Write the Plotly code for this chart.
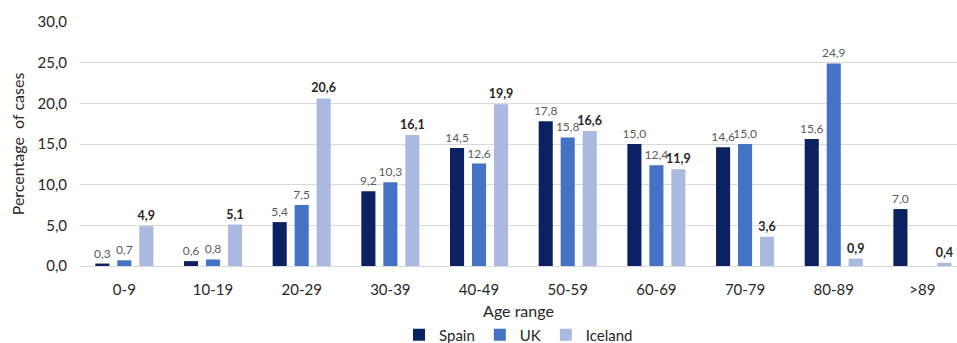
import plotly.graph_objects as go

categories = ["0-9", "10-19", "20-29", "30-39", "40-49", "50-59", "60-69", "70-79", "80-89", ">89"]
spain = [0.3, 0.6, 5.4, 9.2, 14.5, 17.8, 15.0, 14.6, 15.6, 7.0]
uk = [0.7, 0.8, 7.5, 10.3, 12.6, 15.8, 12.4, 15.0, 24.9, None]
iceland = [4.9, 5.1, 20.6, 16.1, 19.9, 16.6, 11.9, 3.6, 0.9, 0.4]
y_ticks = [0, 5, 10, 15, 20, 25, 30]

FONT = "Lato, 'Open Sans', sans-serif"

fig = go.Figure()
series = [
    ("Spain", spain, "#0B2161", dict(color="#595959", size=12, family=FONT)),
    ("UK", uk, "#4472C4", dict(color="#595959", size=12, family=FONT)),
    ("Iceland", iceland, "#A9B9DF", dict(color="#262626", size=12.5, family=FONT, weight="bold")),
]
for name, vals, col, tf in series:
    fig.add_trace(go.Bar(
        x=categories, y=vals, name=name,
        marker=dict(color=col, line=dict(width=0)),
        texttemplate="%{y:.1f}", textposition="outside",
        textfont=tf, cliponaxis=False, constraintext="none",
    ))

fig.update_layout(
    width=957, height=343,
    margin=dict(l=80, r=0, t=22, b=77, autoexpand=False),
    paper_bgcolor="white", plot_bgcolor="white",
    separators=",.",
    barmode="group", bargap=0.256, bargroupgap=0.36,
    font=dict(family=FONT, size=13, color="#404040"),
    showlegend=True,
    legend=dict(orientation="h", x=0.5, xanchor="center", y=-0.283, yanchor="middle",
                font=dict(size=15, color="#262626"), itemwidth=30, traceorder="normal"),
    xaxis=dict(
        range=[-0.5, 9.39], showgrid=False, showline=True, linecolor="#d9d9d9", linewidth=1,
        ticks="", tickfont=dict(size=15, color="#262626"), ticklabelstandoff=10, automargin=False,
        title=dict(text="Age range", font=dict(size=16, color="#262626"), standoff=8),
    ),
    yaxis=dict(
        range=[0, 30], tickvals=y_ticks, tickformat=".1f", automargin=False,
        showgrid=True, gridcolor="#d9d9d9", gridwidth=1, zeroline=False,
        tickfont=dict(size=15, color="#262626"), ticks="", ticklabelstandoff=12,
        title=dict(text="Percentage  of cases", font=dict(size=16, color="#262626"), standoff=8),
    ),
)

fig.write_html("out.html", config={"displayModeBar": False},
               post_script="document.body.style.margin='0';document.body.style.overflow='hidden';")
